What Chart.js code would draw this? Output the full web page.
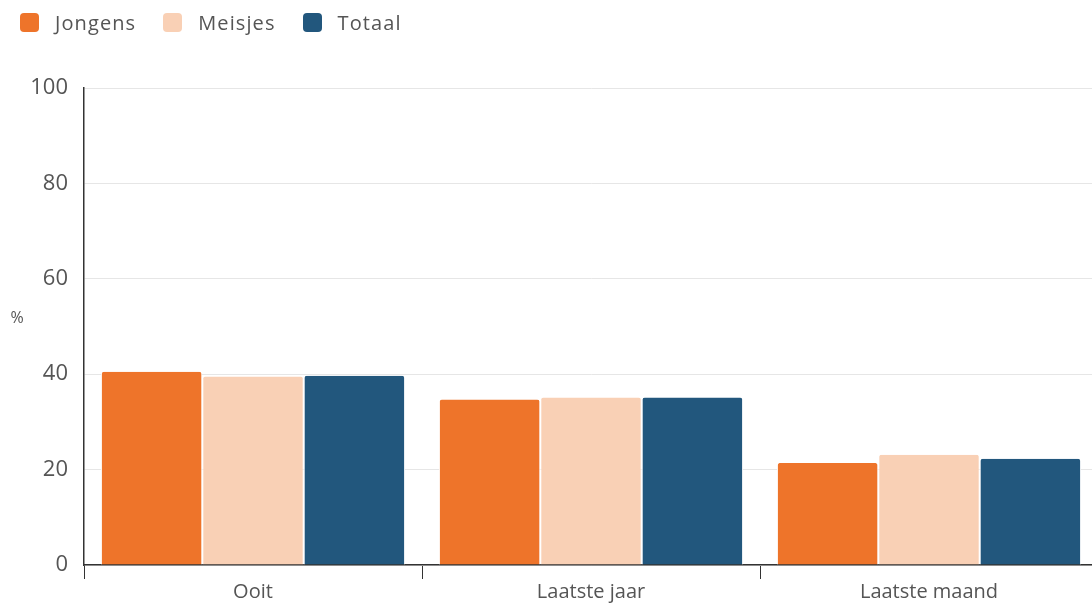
<!DOCTYPE html>
<html>
<head>
<meta charset="utf-8">
<script src="https://cdn.jsdelivr.net/npm/chart.js@4"></script>
<style>
  html,body{margin:0;padding:0;background:#fff;}
  #wrap{position:relative;width:1092px;height:603px;overflow:hidden;}
  #legend{position:absolute;left:20px;top:9px;display:flex;gap:27px;font:20px "Open Sans",sans-serif;color:#555;letter-spacing:1.1px;}
  #legend span{display:flex;align-items:center;}
  #legend i{display:inline-block;width:19px;height:19px;border-radius:4px;margin-right:16px;}
  canvas{position:absolute;left:0;top:0;}
</style>
</head>
<body>
<!-- plot runs a few px past the right edge in the original, so the canvas is wider and clipped -->
<div id="wrap"><canvas id="c" width="1098" height="605"></canvas><div id="legend"></div></div>
<script>
const categories = ["Ooit", "Laatste jaar", "Laatste maand"];
const jongens = [40.5, 34.7, 21.4];
const meisjes = [39.5, 35.1, 23.1];
const totaal  = [39.7, 35.1, 22.3];
const yTicks = [0, 20, 40, 60, 80, 100];
const colors = ["#EE742A", "#F9D0B5", "#22577D"];

const FONT = "'Open Sans', sans-serif";
const TXT = "#555";

// small horizontal "%" title next to the y axis
const pctLabel = {id:"pct",afterDraw(c){const{ctx,chartArea}=c;ctx.save();ctx.font="16px "+FONT;ctx.fillStyle=TXT;
  ctx.textAlign="center";ctx.textBaseline="middle";ctx.fillText("%",17,(chartArea.top+chartArea.bottom)/2-8);ctx.restore();}};

const ds = (label,data,color)=>({label,data,backgroundColor:color,borderColor:"#fff",borderWidth:{left:1,right:1,top:0,bottom:0},
  borderRadius:{topLeft:3,topRight:3},borderSkipped:"bottom",categoryPercentage:0.9,barPercentage:1});

const chart = new Chart(document.getElementById("c"),{
  type:"bar",
  data:{labels:categories,datasets:[
    ds("Jongens",jongens,colors[0]),
    ds("Meisjes",meisjes,colors[1]),
    ds("Totaal",totaal,colors[2])]},
  options:{responsive:false,animation:false,
    layout:{padding:{left:0,right:0,top:88,bottom:0}},
    plugins:{tooltip:{enabled:false},legend:{display:false}},
    scales:{
      x:{afterFit:s=>{s.paddingLeft=0;s.paddingRight=0;},
        grid:{drawOnChartArea:false,color:"#333",tickLength:14,offset:true},border:{color:"#333",width:1.5},
        ticks:{color:TXT,padding:1,font:{family:FONT,size:20}}},
      y:{min:0,max:100,afterBuildTicks:ax=>{ax.ticks=yTicks.map(v=>({value:v}));},
        afterFit:s=>{s.width=84;},
        grid:{color:"#e6e6e6",drawTicks:false},border:{color:"#333",width:1.5},
        ticks:{color:TXT,padding:16,font:{family:FONT,size:22}}}}},
  plugins:[pctLabel]});

document.getElementById("legend").innerHTML = chart.data.datasets.map((d,i)=>
  `<span><i style="background:${colors[i]}"></i>${d.label}</span>`).join("");
</script>
</body>
</html>
